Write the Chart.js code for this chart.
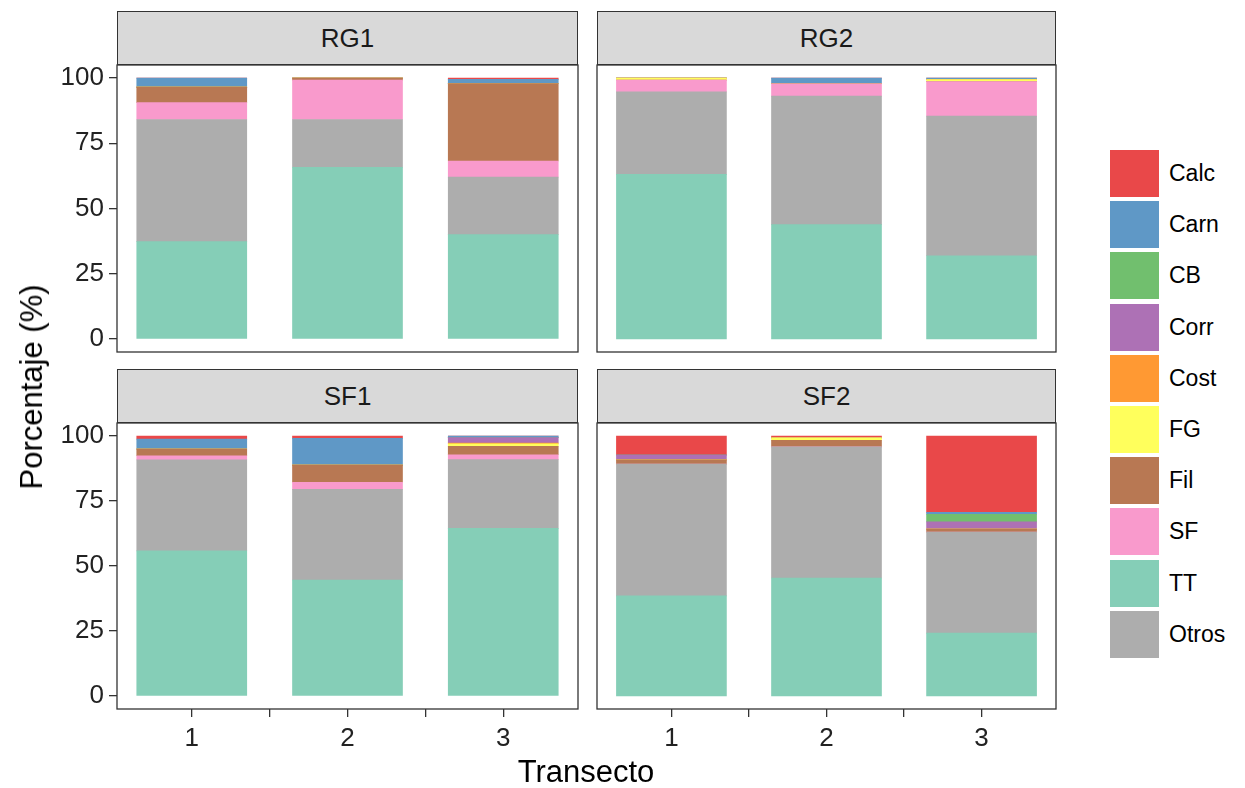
<!DOCTYPE html>
<html>
<head>
<meta charset="utf-8">
<script src="https://cdn.jsdelivr.net/npm/chart.js@4"></script>
<style>
  body { margin: 0; background: #fff; }
  #page { position: relative; width: 1245px; height: 788px; font-family: "Liberation Sans", Arial, sans-serif; }
  canvas { position: absolute; }
  .strip { position: absolute; background: #d9d9d9; border: 1.3px solid #333; box-sizing: border-box;
           font-size: 26px; color: #1a1a1a; display: flex; align-items: center; justify-content: center; }
  .ttl { position: absolute; font-size: 31px; color: #000; white-space: nowrap; }
  .lg-box { position: absolute; width: 49px; height: 47px; }
  .lg-txt { position: absolute; font-size: 23px; color: #000; line-height: 47px; }
</style>
</head>
<body>
<div id="page">
  <canvas id="p0"></canvas>
  <canvas id="p1"></canvas>
  <canvas id="p2"></canvas>
  <canvas id="p3"></canvas>
</div>
<script>
// facetas y transectos
const panels = ["RG1", "RG2", "SF1", "SF2"];
const transects = [1, 2, 3];
const yTicks = [0, 25, 50, 75, 100];
const xTicks = [1, 1.5, 2, 2.5, 3];

// grupos en el orden de la leyenda
const groups = ["Calc", "Carn", "CB", "Corr", "Cost", "FG", "Fil", "SF", "TT", "Otros"];
const colors = ["#e94849", "#5f98c6", "#71bf6e", "#ad71b5", "#ff9933", "#ffff5c", "#b87853", "#f99acc", "#85ceb7", "#adadad"];

// porcentajes: RG1 t1-3, RG2 t1-3, SF1 t1-3, SF2 t1-3
const calc  = [0, 0, 0.5, 0, 0, 0, 1.2, 0.9, 0, 7.3, 0.7, 29.4];
const carn  = [3.5, 0, 1.6, 0, 2.2, 0.6, 3.8, 10.3, 0.6, 0, 0, 0.7];
const cb    = [0, 0, 0, 0, 0, 0, 0, 0, 0, 0, 0, 2.9];
const corr  = [0, 0, 0, 0, 0, 0, 0, 0, 2.1, 1.9, 0, 2.8];
const cost  = [0, 0, 0, 0, 0, 0, 0, 0, 0.3, 0, 0, 0];
const fg    = [0, 0, 0, 0.8, 0, 0.8, 0, 0, 1.0, 0, 1.0, 0];
const fil   = [5.9, 0.8, 29.7, 0, 0, 0, 2.6, 6.6, 3.2, 1.6, 2.5, 1.2];
const sf    = [6.5, 15.1, 6.2, 4.5, 4.7, 13.2, 1.6, 2.7, 1.9, 0, 0, 0];
const tt    = [37.3, 65.8, 40.0, 63.1, 43.8, 31.9, 55.8, 44.6, 64.5, 38.5, 45.4, 24.2];
const otros = [46.8, 18.3, 22.0, 31.6, 49.3, 53.5, 35.0, 34.9, 26.4, 50.7, 50.4, 38.8];

const values = { Calc: calc, Carn: carn, CB: cb, Corr: corr, Cost: cost, FG: fg, Fil: fil, SF: sf, TT: tt, Otros: otros };
// orden de apilado, de abajo hacia arriba
const stackOrder = ["TT", "Otros", "SF", "Fil", "FG", "Cost", "Corr", "CB", "Carn", "Calc"];

Chart.defaults.font.family = "'Liberation Sans', Arial, sans-serif";

const page = document.getElementById("page");

// borde del panel
const borderPlugin = {
  id: "panelBorder",
  afterDraw(chart) {
    const a = chart.chartArea, ctx = chart.ctx;
    ctx.save();
    ctx.strokeStyle = "#333";
    ctx.lineWidth = 1.3;
    ctx.strokeRect(a.left, a.top, a.right - a.left, a.bottom - a.top);
    ctx.restore();
  }
};

const rects = [
  { l: 117, t: 65, r: 578, b: 352 },
  { l: 597, t: 65, r: 1056, b: 352 },
  { l: 117, t: 423, r: 578, b: 709 },
  { l: 597, t: 423, r: 1056, b: 709 }
];

function makePanel(p) {
  const rect = rects[p];
  const showY = p % 2 === 0, showX = p >= 2;
  const M = 4, ML = showY ? 100 : M, MB = showX ? 75 : M;
  const cv = document.getElementById("p" + p);
  cv.width = rect.r - rect.l + ML + M;
  cv.height = rect.b - rect.t + M + MB;
  cv.style.left = (rect.l - ML) + "px";
  cv.style.top = (rect.t - M) + "px";

  // tira con el nombre
  const s = document.createElement("div");
  s.className = "strip";
  s.textContent = panels[p];
  s.style.left = rect.l + "px";
  s.style.top = (rect.t - 54) + "px";
  s.style.width = (rect.r - rect.l) + "px";
  s.style.height = "54px";
  page.appendChild(s);

  const datasets = stackOrder.map((g) => ({
    label: g,
    data: transects.map((t, i) => ({ x: t, y: values[g][p * 3 + i] })),
    backgroundColor: colors[groups.indexOf(g)],
    borderWidth: 0,
    barThickness: 110
  }));

  new Chart(cv, {
    type: "bar",
    data: { datasets: datasets },
    options: {
      responsive: false,
      animation: false,
      layout: { autoPadding: false, padding: { left: showY ? 0 : M, top: M, right: M, bottom: showX ? 0 : M } },
      plugins: { legend: { display: false }, tooltip: { enabled: false } },
      scales: {
        x: {
          type: "linear", min: 0.52, max: 3.48, offset: false, stacked: true, display: showX,
          afterBuildTicks: (sc) => { sc.ticks = xTicks.map((v) => ({ value: v })); },
          afterFit: (sc) => { if (showX) { sc.height = MB; sc.paddingLeft = 0; sc.paddingRight = 0; } },
          border: { display: false },
          grid: { offset: false, drawOnChartArea: false, drawTicks: true, tickLength: 8, color: "#333", lineWidth: 1.3 },
          ticks: { autoSkip: false, maxRotation: 0, padding: 6, color: "#222", font: { size: 26 },
                   callback: (v) => (v % 1 === 0 ? String(v) : "") }
        },
        y: {
          min: -5, max: 105, stacked: true, display: showY,
          afterBuildTicks: (sc) => { sc.ticks = yTicks.map((v) => ({ value: v })); },
          afterFit: (sc) => { if (showY) { sc.width = ML; sc.paddingTop = 0; sc.paddingBottom = 0; } },
          border: { display: false },
          grid: { drawOnChartArea: false, drawTicks: true, tickLength: 8, color: "#333", lineWidth: 1.3 },
          ticks: { padding: 5, color: "#222", font: { size: 26 } }
        }
      }
    },
    plugins: [borderPlugin]
  });
}

panels.forEach((_, p) => makePanel(p));

// títulos de ejes
const xt = document.createElement("div");
xt.className = "ttl";
xt.textContent = "Transecto";
xt.style.left = "586px";
xt.style.top = "772px";
xt.style.transform = "translate(-50%, -50%)";
page.appendChild(xt);

const yt = document.createElement("div");
yt.className = "ttl";
yt.textContent = "Porcentaje (%)";
yt.style.left = "32px";
yt.style.top = "387px";
yt.style.transform = "translate(-50%, -50%) rotate(-90deg)";
page.appendChild(yt);

// leyenda
groups.forEach((g, i) => {
  const top = 150 + i * 51.2;
  const b = document.createElement("div");
  b.className = "lg-box";
  b.style.left = "1110px";
  b.style.top = top + "px";
  b.style.background = colors[i];
  page.appendChild(b);
  const t = document.createElement("div");
  t.className = "lg-txt";
  t.textContent = g;
  t.style.left = "1169px";
  t.style.top = top + "px";
  page.appendChild(t);
});
</script>
</body>
</html>
